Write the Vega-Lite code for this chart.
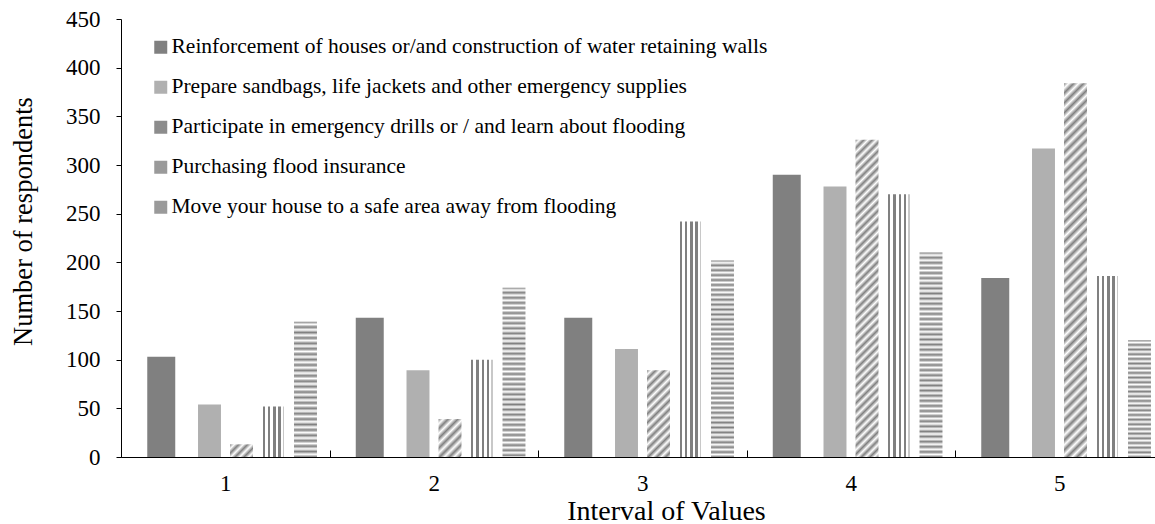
{
  "$schema": "https://vega.github.io/schema/vega-lite/v6.json",
  "width": 1034,
  "height": 438,
  "autosize": "none",
  "padding": {"left": 121, "top": 19, "right": 0, "bottom": 67},
  "config": {
    "font": "Liberation Serif",
    "view": {"stroke": null},
    "axis": {"grid": false, "domainColor": "black", "tickColor": "black", "labelColor": "black", "titleColor": "black", "titleFontWeight": "normal", "labelFont": "Liberation Serif", "titleFont": "Liberation Serif"}
  },
  "data": {"values": [
    {"interval": "1", "series": "Reinforcement of houses or/and construction of water retaining walls", "value": 103},
    {"interval": "1", "series": "Prepare sandbags, life jackets and other emergency supplies", "value": 54},
    {"interval": "1", "series": "Participate in emergency drills or / and learn about flooding", "value": 13},
    {"interval": "1", "series": "Purchasing flood insurance", "value": 52},
    {"interval": "1", "series": "Move your house to a safe area away from flooding", "value": 139},
    {"interval": "2", "series": "Reinforcement of houses or/and construction of water retaining walls", "value": 143},
    {"interval": "2", "series": "Prepare sandbags, life jackets and other emergency supplies", "value": 89},
    {"interval": "2", "series": "Participate in emergency drills or / and learn about flooding", "value": 39},
    {"interval": "2", "series": "Purchasing flood insurance", "value": 100},
    {"interval": "2", "series": "Move your house to a safe area away from flooding", "value": 174},
    {"interval": "3", "series": "Reinforcement of houses or/and construction of water retaining walls", "value": 143},
    {"interval": "3", "series": "Prepare sandbags, life jackets and other emergency supplies", "value": 111},
    {"interval": "3", "series": "Participate in emergency drills or / and learn about flooding", "value": 89},
    {"interval": "3", "series": "Purchasing flood insurance", "value": 242},
    {"interval": "3", "series": "Move your house to a safe area away from flooding", "value": 202},
    {"interval": "4", "series": "Reinforcement of houses or/and construction of water retaining walls", "value": 290},
    {"interval": "4", "series": "Prepare sandbags, life jackets and other emergency supplies", "value": 278},
    {"interval": "4", "series": "Participate in emergency drills or / and learn about flooding", "value": 326},
    {"interval": "4", "series": "Purchasing flood insurance", "value": 270},
    {"interval": "4", "series": "Move your house to a safe area away from flooding", "value": 210},
    {"interval": "5", "series": "Reinforcement of houses or/and construction of water retaining walls", "value": 184},
    {"interval": "5", "series": "Prepare sandbags, life jackets and other emergency supplies", "value": 317},
    {"interval": "5", "series": "Participate in emergency drills or / and learn about flooding", "value": 384},
    {"interval": "5", "series": "Purchasing flood insurance", "value": 186},
    {"interval": "5", "series": "Move your house to a safe area away from flooding", "value": 120}
  ]},
  "encoding": {
    "x": {
      "field": "interval", "type": "nominal",
      "scale": {"rangeMax": 1042.5, "paddingInner": 0, "paddingOuter": 0},
      "axis": {"title": "Interval of Values", "labelAngle": 0, "tickBand": "extent", "tickSize": -7, "labelPadding": 22, "labelFontSize": 23, "titleFontSize": 28, "titlePadding": 2, "titleX": 545, "titleAlign": "center", "zindex": 1}
    },
    "xOffset": {
      "field": "series", "type": "nominal",
      "scale": {"domain": ["Reinforcement of houses or/and construction of water retaining walls", "Prepare sandbags, life jackets and other emergency supplies", "Participate in emergency drills or / and learn about flooding", "Purchasing flood insurance", "Move your house to a safe area away from flooding"], "paddingInner": 0.125, "paddingOuter": 0.8205}
    },
    "y": {
      "field": "value", "type": "quantitative",
      "scale": {"domain": [0, 450], "nice": false},
      "axis": {"title": "Number of respondents", "values": [0, 50, 100, 150, 200, 250, 300, 350, 400, 450], "tickSize": 5, "labelPadding": 16, "labelFontSize": 23, "titleFontSize": 26.5, "titleAngle": -90, "titleX": -84, "titleY": 202, "titleAlign": "center", "titleBaseline": "bottom", "zindex": 1}
    }
  },
  "layer": [
    {
      "transform": [{"filter": "substring(datum.series,0,4) === 'Rein'"}],
      "mark": {"type": "bar"},
      "encoding": {
        "fill": {
          "field": "series", "type": "nominal",
          "scale": {"domain": ["Reinforcement of houses or/and construction of water retaining walls", "Prepare sandbags, life jackets and other emergency supplies", "Participate in emergency drills or / and learn about flooding", "Purchasing flood insurance", "Move your house to a safe area away from flooding"], "range": ["#808080", "#b0b0b0", "#8c8c8c", "#9a9a9a", "#9a9a9a"]},
          "legend": {"title": null, "orient": "none", "legendX": 29, "legendY": 17.5, "symbolType": "square", "symbolSize": 169, "symbolStrokeWidth": 0, "labelFontSize": 21.5, "labelFont": "Liberation Serif", "labelColor": "black", "labelLimit": 1000, "rowPadding": 17, "labelOffset": 0, "padding": 0}
        }
      }
    },
    {
      "transform": [{"filter": "substring(datum.series,0,4) !== 'Rein'"}],
      "mark": {"type": "bar", "width": {"band": 0.82}},
      "encoding": {
        "fill": {
          "condition": [
            {"test": "substring(datum.series,0,4) === 'Purc'", "value": {"gradient": "linear", "x1": 0, "y1": 0, "x2": 1, "y2": 0, "stops": [
              {"offset": 0, "color": "white"}, {"offset": 0.022, "color": "white"}, {"offset": 0.022, "color": "gray"}, {"offset": 0.13, "color": "gray"}, {"offset": 0.13, "color": "white"}, {"offset": 0.252, "color": "white"}, {"offset": 0.252, "color": "gray"}, {"offset": 0.361, "color": "gray"}, {"offset": 0.361, "color": "white"}, {"offset": 0.483, "color": "white"}, {"offset": 0.483, "color": "gray"}, {"offset": 0.591, "color": "gray"}, {"offset": 0.591, "color": "white"}, {"offset": 0.713, "color": "white"}, {"offset": 0.713, "color": "gray"}, {"offset": 0.822, "color": "gray"}, {"offset": 0.822, "color": "white"}, {"offset": 0.913, "color": "white"}, {"offset": 0.913, "color": "#c8c8c8"}, {"offset": 0.978, "color": "#c8c8c8"}, {"offset": 0.978, "color": "white"}, {"offset": 1, "color": "white"}]}},
            {"test": "substring(datum.series,0,4) === 'Move' && (datum.interval === '1' || datum.interval === '5')", "value": {"gradient": "linear", "x1": 0, "y1": 0, "x2": 0, "y2": 1, "stops": [
              {"offset":0,"color":"gray"},{"offset":0.02,"color":"white"},{"offset":0.04,"color":"gray"},{"offset":0.06,"color":"white"},{"offset":0.08,"color":"gray"},{"offset":0.1,"color":"white"},{"offset":0.12,"color":"gray"},{"offset":0.14,"color":"white"},{"offset":0.16,"color":"gray"},{"offset":0.18,"color":"white"},{"offset":0.2,"color":"gray"},{"offset":0.22,"color":"white"},{"offset":0.24,"color":"gray"},{"offset":0.26,"color":"white"},{"offset":0.28,"color":"gray"},{"offset":0.3,"color":"white"},{"offset":0.32,"color":"gray"},{"offset":0.34,"color":"white"},{"offset":0.36,"color":"gray"},{"offset":0.38,"color":"white"},{"offset":0.4,"color":"gray"},{"offset":0.42,"color":"white"},{"offset":0.44,"color":"gray"},{"offset":0.46,"color":"white"},{"offset":0.48,"color":"gray"},{"offset":0.5,"color":"white"},{"offset":0.52,"color":"gray"},{"offset":0.54,"color":"white"},{"offset":0.56,"color":"gray"},{"offset":0.58,"color":"white"},{"offset":0.6,"color":"gray"},{"offset":0.62,"color":"white"},{"offset":0.64,"color":"gray"},{"offset":0.66,"color":"white"},{"offset":0.68,"color":"gray"},{"offset":0.7,"color":"white"},{"offset":0.72,"color":"gray"},{"offset":0.74,"color":"white"},{"offset":0.76,"color":"gray"},{"offset":0.78,"color":"white"},{"offset":0.8,"color":"gray"},{"offset":0.82,"color":"white"},{"offset":0.84,"color":"gray"},{"offset":0.86,"color":"white"},{"offset":0.88,"color":"gray"},{"offset":0.9,"color":"white"},{"offset":0.92,"color":"gray"},{"offset":0.94,"color":"white"},{"offset":0.96,"color":"gray"},{"offset":0.98,"color":"white"},{"offset":1,"color":"gray"}]}},
            {"test": "substring(datum.series,0,4) === 'Move' && datum.interval === '2'", "value": {"gradient": "linear", "x1": 0, "y1": 0, "x2": 0, "y2": 1, "stops": [
              {"offset":0,"color":"gray"},{"offset":0.015,"color":"white"},{"offset":0.03,"color":"gray"},{"offset":0.045,"color":"white"},{"offset":0.06,"color":"gray"},{"offset":0.075,"color":"white"},{"offset":0.09,"color":"gray"},{"offset":0.105,"color":"white"},{"offset":0.12,"color":"gray"},{"offset":0.135,"color":"white"},{"offset":0.15,"color":"gray"},{"offset":0.165,"color":"white"},{"offset":0.18,"color":"gray"},{"offset":0.195,"color":"white"},{"offset":0.21,"color":"gray"},{"offset":0.225,"color":"white"},{"offset":0.24,"color":"gray"},{"offset":0.255,"color":"white"},{"offset":0.27,"color":"gray"},{"offset":0.285,"color":"white"},{"offset":0.3,"color":"gray"},{"offset":0.315,"color":"white"},{"offset":0.33,"color":"gray"},{"offset":0.345,"color":"white"},{"offset":0.36,"color":"gray"},{"offset":0.375,"color":"white"},{"offset":0.39,"color":"gray"},{"offset":0.405,"color":"white"},{"offset":0.42,"color":"gray"},{"offset":0.435,"color":"white"},{"offset":0.45,"color":"gray"},{"offset":0.465,"color":"white"},{"offset":0.48,"color":"gray"},{"offset":0.495,"color":"white"},{"offset":0.51,"color":"gray"},{"offset":0.525,"color":"white"},{"offset":0.54,"color":"gray"},{"offset":0.555,"color":"white"},{"offset":0.57,"color":"gray"},{"offset":0.585,"color":"white"},{"offset":0.6,"color":"gray"},{"offset":0.615,"color":"white"},{"offset":0.63,"color":"gray"},{"offset":0.645,"color":"white"},{"offset":0.66,"color":"gray"},{"offset":0.675,"color":"white"},{"offset":0.69,"color":"gray"},{"offset":0.705,"color":"white"},{"offset":0.72,"color":"gray"},{"offset":0.735,"color":"white"},{"offset":0.75,"color":"gray"},{"offset":0.765,"color":"white"},{"offset":0.78,"color":"gray"},{"offset":0.795,"color":"white"},{"offset":0.81,"color":"gray"},{"offset":0.825,"color":"white"},{"offset":0.84,"color":"gray"},{"offset":0.855,"color":"white"},{"offset":0.87,"color":"gray"},{"offset":0.885,"color":"white"},{"offset":0.9,"color":"gray"},{"offset":0.915,"color":"white"},{"offset":0.93,"color":"gray"},{"offset":0.945,"color":"white"},{"offset":0.96,"color":"gray"},{"offset":0.975,"color":"white"},{"offset":0.99,"color":"gray"},{"offset":1,"color":"white"}]}},
            {"test": "substring(datum.series,0,4) === 'Move' && (datum.interval === '3' || datum.interval === '4')", "value": {"gradient": "linear", "x1": 0, "y1": 0, "x2": 0, "y2": 1, "stops": [
              {"offset":0,"color":"gray"},{"offset":0.0125,"color":"white"},{"offset":0.025,"color":"gray"},{"offset":0.0375,"color":"white"},{"offset":0.05,"color":"gray"},{"offset":0.0625,"color":"white"},{"offset":0.075,"color":"gray"},{"offset":0.0875,"color":"white"},{"offset":0.1,"color":"gray"},{"offset":0.1125,"color":"white"},{"offset":0.125,"color":"gray"},{"offset":0.1375,"color":"white"},{"offset":0.15,"color":"gray"},{"offset":0.1625,"color":"white"},{"offset":0.175,"color":"gray"},{"offset":0.1875,"color":"white"},{"offset":0.2,"color":"gray"},{"offset":0.2125,"color":"white"},{"offset":0.225,"color":"gray"},{"offset":0.2375,"color":"white"},{"offset":0.25,"color":"gray"},{"offset":0.2625,"color":"white"},{"offset":0.275,"color":"gray"},{"offset":0.2875,"color":"white"},{"offset":0.3,"color":"gray"},{"offset":0.3125,"color":"white"},{"offset":0.325,"color":"gray"},{"offset":0.3375,"color":"white"},{"offset":0.35,"color":"gray"},{"offset":0.3625,"color":"white"},{"offset":0.375,"color":"gray"},{"offset":0.3875,"color":"white"},{"offset":0.4,"color":"gray"},{"offset":0.4125,"color":"white"},{"offset":0.425,"color":"gray"},{"offset":0.4375,"color":"white"},{"offset":0.45,"color":"gray"},{"offset":0.4625,"color":"white"},{"offset":0.475,"color":"gray"},{"offset":0.4875,"color":"white"},{"offset":0.5,"color":"gray"},{"offset":0.5125,"color":"white"},{"offset":0.525,"color":"gray"},{"offset":0.5375,"color":"white"},{"offset":0.55,"color":"gray"},{"offset":0.5625,"color":"white"},{"offset":0.575,"color":"gray"},{"offset":0.5875,"color":"white"},{"offset":0.6,"color":"gray"},{"offset":0.6125,"color":"white"},{"offset":0.625,"color":"gray"},{"offset":0.6375,"color":"white"},{"offset":0.65,"color":"gray"},{"offset":0.6625,"color":"white"},{"offset":0.675,"color":"gray"},{"offset":0.6875,"color":"white"},{"offset":0.7,"color":"gray"},{"offset":0.7125,"color":"white"},{"offset":0.725,"color":"gray"},{"offset":0.7375,"color":"white"},{"offset":0.75,"color":"gray"},{"offset":0.7625,"color":"white"},{"offset":0.775,"color":"gray"},{"offset":0.7875,"color":"white"},{"offset":0.8,"color":"gray"},{"offset":0.8125,"color":"white"},{"offset":0.825,"color":"gray"},{"offset":0.8375,"color":"white"},{"offset":0.85,"color":"gray"},{"offset":0.8625,"color":"white"},{"offset":0.875,"color":"gray"},{"offset":0.8875,"color":"white"},{"offset":0.9,"color":"gray"},{"offset":0.9125,"color":"white"},{"offset":0.925,"color":"gray"},{"offset":0.9375,"color":"white"},{"offset":0.95,"color":"gray"},{"offset":0.9625,"color":"white"},{"offset":0.975,"color":"gray"},{"offset":0.9875,"color":"white"},{"offset":1,"color":"gray"}]}},
            {"test": "substring(datum.series,0,4) === 'Part' && datum.interval === '1'", "value": {"gradient": "linear", "x1": 0, "y1": 0, "x2": 1.19, "y2": 0.652, "stops": [
              {"offset":0,"color":"gray"},{"offset":0.125,"color":"white"},{"offset":0.25,"color":"gray"},{"offset":0.375,"color":"white"},{"offset":0.5,"color":"gray"},{"offset":0.625,"color":"white"},{"offset":0.75,"color":"gray"},{"offset":0.875,"color":"white"},{"offset":1,"color":"gray"}]}},
            {"test": "substring(datum.series,0,4) === 'Part' && datum.interval === '2'", "value": {"gradient": "linear", "x1": 0, "y1": 0, "x2": 0.711, "y2": 1.175, "stops": [
              {"offset":0,"color":"gray"},{"offset":0.08,"color":"white"},{"offset":0.16,"color":"gray"},{"offset":0.24,"color":"white"},{"offset":0.32,"color":"gray"},{"offset":0.4,"color":"white"},{"offset":0.48,"color":"gray"},{"offset":0.56,"color":"white"},{"offset":0.64,"color":"gray"},{"offset":0.72,"color":"white"},{"offset":0.8,"color":"gray"},{"offset":0.88,"color":"white"},{"offset":0.96,"color":"gray"},{"offset":1,"color":"white"}]}},
            {"test": "substring(datum.series,0,4) === 'Part' && datum.interval === '3'", "value": {"gradient": "linear", "x1": 0, "y1": 0, "x2": 0.3124, "y2": 1.1818, "stops": [
              {"offset":0,"color":"gray"},{"offset":0.04,"color":"white"},{"offset":0.08,"color":"gray"},{"offset":0.12,"color":"white"},{"offset":0.16,"color":"gray"},{"offset":0.2,"color":"white"},{"offset":0.24,"color":"gray"},{"offset":0.28,"color":"white"},{"offset":0.32,"color":"gray"},{"offset":0.36,"color":"white"},{"offset":0.4,"color":"gray"},{"offset":0.44,"color":"white"},{"offset":0.48,"color":"gray"},{"offset":0.52,"color":"white"},{"offset":0.56,"color":"gray"},{"offset":0.6,"color":"white"},{"offset":0.64,"color":"gray"},{"offset":0.68,"color":"white"},{"offset":0.72,"color":"gray"},{"offset":0.76,"color":"white"},{"offset":0.8,"color":"gray"},{"offset":0.84,"color":"white"},{"offset":0.88,"color":"gray"},{"offset":0.92,"color":"white"},{"offset":0.96,"color":"gray"},{"offset":1,"color":"white"}]}},
            {"test": "substring(datum.series,0,4) === 'Part' && datum.interval === '4'", "value": {"gradient": "linear", "x1": 0, "y1": 0, "x2": 0.0774, "y2": 1.0669, "stops": [
              {"offset":0,"color":"gray"},{"offset":0.0125,"color":"white"},{"offset":0.025,"color":"gray"},{"offset":0.0375,"color":"white"},{"offset":0.05,"color":"gray"},{"offset":0.0625,"color":"white"},{"offset":0.075,"color":"gray"},{"offset":0.0875,"color":"white"},{"offset":0.1,"color":"gray"},{"offset":0.1125,"color":"white"},{"offset":0.125,"color":"gray"},{"offset":0.1375,"color":"white"},{"offset":0.15,"color":"gray"},{"offset":0.1625,"color":"white"},{"offset":0.175,"color":"gray"},{"offset":0.1875,"color":"white"},{"offset":0.2,"color":"gray"},{"offset":0.2125,"color":"white"},{"offset":0.225,"color":"gray"},{"offset":0.2375,"color":"white"},{"offset":0.25,"color":"gray"},{"offset":0.2625,"color":"white"},{"offset":0.275,"color":"gray"},{"offset":0.2875,"color":"white"},{"offset":0.3,"color":"gray"},{"offset":0.3125,"color":"white"},{"offset":0.325,"color":"gray"},{"offset":0.3375,"color":"white"},{"offset":0.35,"color":"gray"},{"offset":0.3625,"color":"white"},{"offset":0.375,"color":"gray"},{"offset":0.3875,"color":"white"},{"offset":0.4,"color":"gray"},{"offset":0.4125,"color":"white"},{"offset":0.425,"color":"gray"},{"offset":0.4375,"color":"white"},{"offset":0.45,"color":"gray"},{"offset":0.4625,"color":"white"},{"offset":0.475,"color":"gray"},{"offset":0.4875,"color":"white"},{"offset":0.5,"color":"gray"},{"offset":0.5125,"color":"white"},{"offset":0.525,"color":"gray"},{"offset":0.5375,"color":"white"},{"offset":0.55,"color":"gray"},{"offset":0.5625,"color":"white"},{"offset":0.575,"color":"gray"},{"offset":0.5875,"color":"white"},{"offset":0.6,"color":"gray"},{"offset":0.6125,"color":"white"},{"offset":0.625,"color":"gray"},{"offset":0.6375,"color":"white"},{"offset":0.65,"color":"gray"},{"offset":0.6625,"color":"white"},{"offset":0.675,"color":"gray"},{"offset":0.6875,"color":"white"},{"offset":0.7,"color":"gray"},{"offset":0.7125,"color":"white"},{"offset":0.725,"color":"gray"},{"offset":0.7375,"color":"white"},{"offset":0.75,"color":"gray"},{"offset":0.7625,"color":"white"},{"offset":0.775,"color":"gray"},{"offset":0.7875,"color":"white"},{"offset":0.8,"color":"gray"},{"offset":0.8125,"color":"white"},{"offset":0.825,"color":"gray"},{"offset":0.8375,"color":"white"},{"offset":0.85,"color":"gray"},{"offset":0.8625,"color":"white"},{"offset":0.875,"color":"gray"},{"offset":0.8875,"color":"white"},{"offset":0.9,"color":"gray"},{"offset":0.9125,"color":"white"},{"offset":0.925,"color":"gray"},{"offset":0.9375,"color":"white"},{"offset":0.95,"color":"gray"},{"offset":0.9625,"color":"white"},{"offset":0.975,"color":"gray"},{"offset":0.9875,"color":"white"},{"offset":1,"color":"gray"}]}},
            {"test": "substring(datum.series,0,4) === 'Part' && datum.interval === '5'", "value": {"gradient": "linear", "x1": 0, "y1": 0, "x2": 0.065, "y2": 1.0575, "stops": [
              {"offset":0,"color":"gray"},{"offset":0.0125,"color":"white"},{"offset":0.025,"color":"gray"},{"offset":0.0375,"color":"white"},{"offset":0.05,"color":"gray"},{"offset":0.0625,"color":"white"},{"offset":0.075,"color":"gray"},{"offset":0.0875,"color":"white"},{"offset":0.1,"color":"gray"},{"offset":0.1125,"color":"white"},{"offset":0.125,"color":"gray"},{"offset":0.1375,"color":"white"},{"offset":0.15,"color":"gray"},{"offset":0.1625,"color":"white"},{"offset":0.175,"color":"gray"},{"offset":0.1875,"color":"white"},{"offset":0.2,"color":"gray"},{"offset":0.2125,"color":"white"},{"offset":0.225,"color":"gray"},{"offset":0.2375,"color":"white"},{"offset":0.25,"color":"gray"},{"offset":0.2625,"color":"white"},{"offset":0.275,"color":"gray"},{"offset":0.2875,"color":"white"},{"offset":0.3,"color":"gray"},{"offset":0.3125,"color":"white"},{"offset":0.325,"color":"gray"},{"offset":0.3375,"color":"white"},{"offset":0.35,"color":"gray"},{"offset":0.3625,"color":"white"},{"offset":0.375,"color":"gray"},{"offset":0.3875,"color":"white"},{"offset":0.4,"color":"gray"},{"offset":0.4125,"color":"white"},{"offset":0.425,"color":"gray"},{"offset":0.4375,"color":"white"},{"offset":0.45,"color":"gray"},{"offset":0.4625,"color":"white"},{"offset":0.475,"color":"gray"},{"offset":0.4875,"color":"white"},{"offset":0.5,"color":"gray"},{"offset":0.5125,"color":"white"},{"offset":0.525,"color":"gray"},{"offset":0.5375,"color":"white"},{"offset":0.55,"color":"gray"},{"offset":0.5625,"color":"white"},{"offset":0.575,"color":"gray"},{"offset":0.5875,"color":"white"},{"offset":0.6,"color":"gray"},{"offset":0.6125,"color":"white"},{"offset":0.625,"color":"gray"},{"offset":0.6375,"color":"white"},{"offset":0.65,"color":"gray"},{"offset":0.6625,"color":"white"},{"offset":0.675,"color":"gray"},{"offset":0.6875,"color":"white"},{"offset":0.7,"color":"gray"},{"offset":0.7125,"color":"white"},{"offset":0.725,"color":"gray"},{"offset":0.7375,"color":"white"},{"offset":0.75,"color":"gray"},{"offset":0.7625,"color":"white"},{"offset":0.775,"color":"gray"},{"offset":0.7875,"color":"white"},{"offset":0.8,"color":"gray"},{"offset":0.8125,"color":"white"},{"offset":0.825,"color":"gray"},{"offset":0.8375,"color":"white"},{"offset":0.85,"color":"gray"},{"offset":0.8625,"color":"white"},{"offset":0.875,"color":"gray"},{"offset":0.8875,"color":"white"},{"offset":0.9,"color":"gray"},{"offset":0.9125,"color":"white"},{"offset":0.925,"color":"gray"},{"offset":0.9375,"color":"white"},{"offset":0.95,"color":"gray"},{"offset":0.9625,"color":"white"},{"offset":0.975,"color":"gray"},{"offset":0.9875,"color":"white"},{"offset":1,"color":"gray"}]}}
          ],
          "value": "#b0b0b0"
        }
      }
    }
  ]
}
